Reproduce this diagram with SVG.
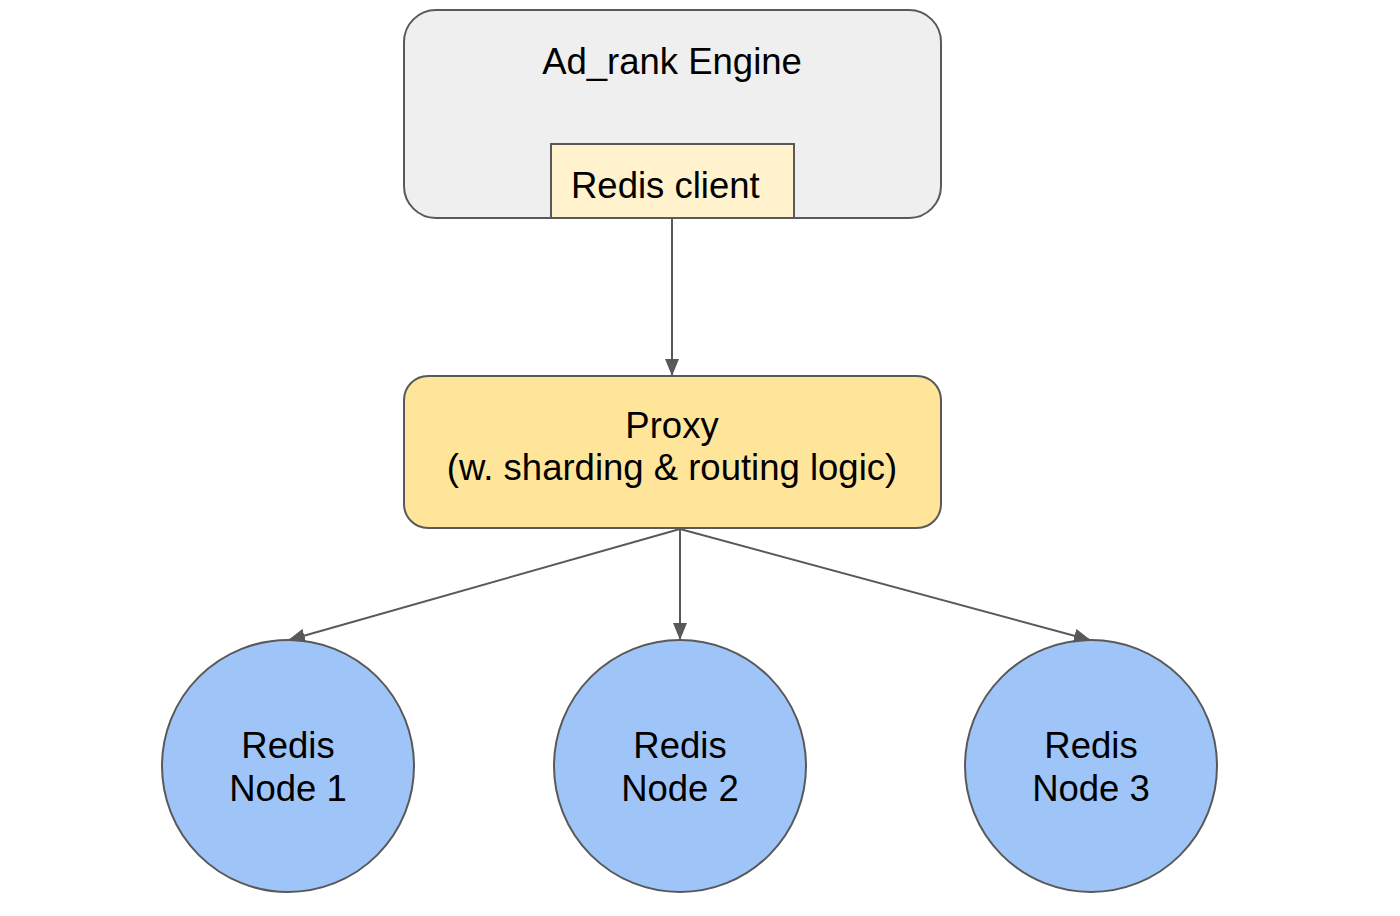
<svg xmlns="http://www.w3.org/2000/svg" width="1400" height="916" viewBox="0 0 1400 916">
<style>
text{font-family:"Liberation Sans",Arial,sans-serif;font-size:36.5px;fill:#000}
.c{text-anchor:middle}
.sh{stroke:#595959;stroke-width:2}
.edge{stroke:#595959;stroke-width:2;fill:none;marker-end:url(#ah)}
</style>
<defs>
<marker id="ah" viewBox="0 0 17 14" refX="16" refY="7" markerWidth="17" markerHeight="14" markerUnits="userSpaceOnUse" orient="auto">
<path d="M0,0 L17,7 L0,14 Z" fill="#595959"/>
</marker>
</defs>
<rect width="1400" height="916" fill="#fff"/>
<g id="adrank">
<rect class="sh" x="404" y="10" width="537" height="208" rx="32" fill="#efefef"/>
<text class="c" x="672" y="74">Ad_rank Engine</text>
</g>
<g id="redisclient">
<rect class="sh" x="551" y="144" width="243" height="74" fill="#fff2cc"/>
<text x="571" y="198">Redis client</text>
</g>
<g id="proxy">
<rect class="sh" x="404" y="376" width="537" height="152" rx="24" fill="#ffe599"/>
<text class="c" x="672" y="438">Proxy</text>
<text class="c" x="672" y="480">(w. sharding &amp; routing logic)</text>
</g>
<g id="node1">
<circle class="sh" cx="288" cy="766" r="126" fill="#9fc5f8"/>
<text class="c" x="288" y="758">Redis</text>
<text class="c" x="288" y="801">Node 1</text>
</g>
<g id="node2">
<circle class="sh" cx="680" cy="766" r="126" fill="#9fc5f8"/>
<text class="c" x="680" y="758">Redis</text>
<text class="c" x="680" y="801">Node 2</text>
</g>
<g id="node3">
<circle class="sh" cx="1091" cy="766" r="126" fill="#9fc5f8"/>
<text class="c" x="1091" y="758">Redis</text>
<text class="c" x="1091" y="801">Node 3</text>
</g>
<g id="connectors">
<line class="edge" x1="672" y1="219" x2="672" y2="375"/>
<line class="edge" x1="680" y1="529" x2="289" y2="640"/>
<line class="edge" x1="680" y1="529" x2="680" y2="639"/>
<line class="edge" x1="680" y1="529" x2="1090" y2="640"/>
</g>
</svg>
